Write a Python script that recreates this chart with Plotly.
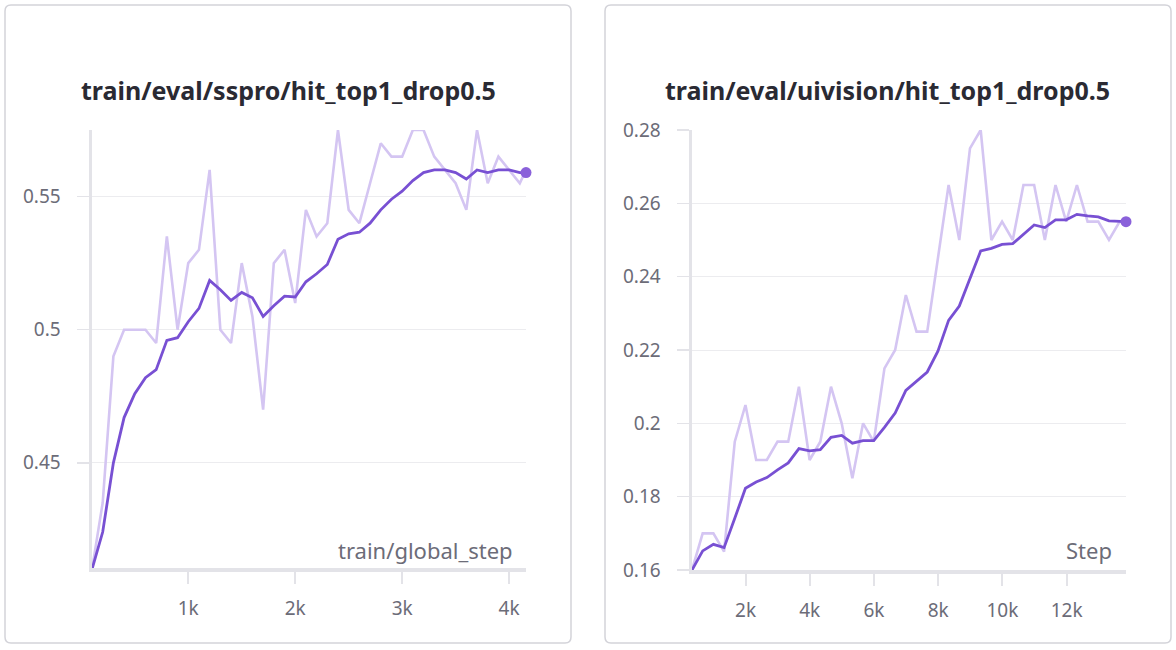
import plotly.graph_objects as go

W, H = 1176, 650

# ---------------- data ----------------
sspro_steps = [100, 200, 300, 400, 500, 600, 700, 800, 900, 1000,
               1100, 1200, 1300, 1400, 1500, 1600, 1700, 1800, 1900, 2000,
               2100, 2200, 2300, 2400, 2500, 2600, 2700, 2800, 2900, 3000,
               3100, 3200, 3300, 3400, 3500, 3600, 3700, 3800, 3900, 4000,
               4100, 4158]
sspro_raw = [0.41, 0.435, 0.49, 0.5, 0.5, 0.5, 0.495, 0.535, 0.5, 0.525,
             0.53, 0.56, 0.5, 0.495, 0.525, 0.505, 0.47, 0.525, 0.53, 0.51,
             0.545, 0.535, 0.54, 0.575, 0.545, 0.54, 0.555, 0.57, 0.565, 0.565,
             0.575, 0.575, 0.565, 0.56, 0.555, 0.545, 0.575, 0.555, 0.565, 0.56,
             0.555, 0.56]
sspro_smooth = [0.41, 0.424, 0.450, 0.467, 0.476, 0.482, 0.485, 0.496, 0.497, 0.503,
                0.508, 0.5185, 0.515, 0.511, 0.514, 0.512, 0.505, 0.509, 0.5126, 0.5123,
                0.518, 0.521, 0.5245, 0.534, 0.536, 0.5366, 0.540, 0.545, 0.549, 0.552,
                0.556, 0.559, 0.560, 0.560, 0.559, 0.5566, 0.560, 0.559, 0.560, 0.560,
                0.559, 0.559]

ui_steps = [333, 666, 999, 1332, 1665, 1998, 2331, 2664, 2997, 3330,
            3663, 3996, 4329, 4662, 4995, 5328, 5661, 5994, 6327, 6660,
            6993, 7326, 7659, 7992, 8325, 8658, 8991, 9324, 9657, 9990,
            10323, 10656, 10989, 11322, 11655, 11988, 12321, 12654, 12987, 13320,
            13653, 13850]
ui_raw = [0.16, 0.17, 0.17, 0.165, 0.195, 0.205, 0.19, 0.19, 0.195, 0.195,
          0.21, 0.19, 0.195, 0.21, 0.2, 0.185, 0.2, 0.195, 0.215, 0.22,
          0.235, 0.225, 0.225, 0.245, 0.265, 0.25, 0.275, 0.28, 0.25, 0.255,
          0.25, 0.265, 0.265, 0.25, 0.265, 0.255, 0.265, 0.255, 0.255, 0.25,
          0.255, 0.255]
ui_smooth = [0.16, 0.1652, 0.167, 0.1661, 0.1741, 0.1823, 0.184, 0.1852, 0.1873, 0.1892,
             0.1931, 0.1925, 0.1928, 0.1962, 0.1967, 0.1946, 0.1953, 0.1953, 0.1989, 0.2028,
             0.209, 0.2115, 0.214, 0.2197, 0.2281, 0.232, 0.2397, 0.247, 0.2477, 0.2488,
             0.249, 0.2516, 0.2541, 0.2534, 0.2555, 0.2555, 0.257, 0.2566, 0.2563, 0.2552,
             0.255, 0.255]

titles = ["train/eval/sspro/hit_top1_drop0.5", "train/eval/uivision/hit_top1_drop0.5"]
x_titles = ["train/global_step", "Step"]
sspro_xticks = [1000, 2000, 3000, 4000]
sspro_xlabels = ["1k", "2k", "3k", "4k"]
sspro_yticks = [0.45, 0.5, 0.55]
sspro_ylabels = ["0.45", "0.5", "0.55"]
ui_xticks = [2000, 4000, 6000, 8000, 10000, 12000]
ui_xlabels = ["2k", "4k", "6k", "8k", "10k", "12k"]
ui_yticks = [0.16, 0.18, 0.2, 0.22, 0.24, 0.26, 0.28]
ui_ylabels = ["0.16", "0.18", "0.2", "0.22", "0.24", "0.26", "0.28"]

# ---------------- style ----------------
FONT = "Noto Sans"
RAW_C = "#d4c5f2"
SM_C = "#7850d3"
DOT_C = "#8a61da"
AX_C = "#e3e3e8"
GRID_C = "#ececef"
TXT_C = "#6c6c78"
TITLE_C = "#2a2a33"


def px(x):
    return x / W


def py(y):
    return 1 - y / H


fig = go.Figure()

series = [
    (sspro_steps, sspro_raw, sspro_smooth, "x", "y"),
    (ui_steps, ui_raw, ui_smooth, "x2", "y2"),
]
for steps, raw, sm, xa, ya in series:
    fig.add_trace(go.Scatter(x=steps, y=raw, mode="lines", xaxis=xa, yaxis=ya,
                             line=dict(color=RAW_C, width=2.6), hoverinfo="skip",
                             showlegend=False, cliponaxis=False))
    fig.add_trace(go.Scatter(x=steps, y=sm, mode="lines", xaxis=xa, yaxis=ya,
                             line=dict(color=SM_C, width=2.8), showlegend=False,
                             cliponaxis=False))
    fig.add_trace(go.Scatter(x=[steps[-1]], y=[sm[-1]], mode="markers", xaxis=xa, yaxis=ya,
                             marker=dict(color=DOT_C, size=11), showlegend=False,
                             cliponaxis=False))

common_x = dict(showgrid=False, zeroline=False, showline=True, linecolor=AX_C, linewidth=4,
                ticks="outside", ticklen=12, tickwidth=2, tickcolor=AX_C,
                tickfont=dict(family=FONT, size=19, color=TXT_C), ticklabelstandoff=8,
                fixedrange=True, automargin=False)
common_y = dict(showgrid=True, gridcolor=GRID_C, gridwidth=1, zeroline=False, showline=True,
                linecolor=AX_C, linewidth=3.5, ticks="outside", ticklen=12, tickwidth=1.5,
                tickcolor=AX_C, tickfont=dict(family=FONT, size=19, color=TXT_C),
                ticklabelstandoff=12, fixedrange=True, automargin=False)

fig.update_layout(
    width=W, height=H, autosize=False,
    margin=dict(l=0, r=0, t=0, b=0, pad=0),
    paper_bgcolor="white", plot_bgcolor="white",
    font=dict(family=FONT),
    xaxis=dict(common_x, domain=[px(92), px(526)], range=[100, 4158],
               tickvals=sspro_xticks, ticktext=sspro_xlabels, anchor="y"),
    yaxis=dict(common_y, domain=[py(568), py(130)], range=[0.4105, 0.575],
               tickvals=sspro_yticks, ticktext=sspro_ylabels, anchor="x"),
    xaxis2=dict(common_x, domain=[px(692), px(1126)], range=[333, 13850],
                tickvals=ui_xticks, ticktext=ui_xlabels, anchor="y2"),
    yaxis2=dict(common_y, domain=[py(570), py(130)], range=[0.16, 0.28],
                tickvals=ui_yticks, ticktext=ui_ylabels, anchor="x2"),
)


def rounded_rect(x0, y0, x1, y1, r):
    X0, X1 = px(x0), px(x1)
    Y0, Y1 = py(y0), py(y1)
    rx, ry = r / W, r / H
    return (f"M {X0+rx},{Y0} L {X1-rx},{Y0} Q {X1},{Y0} {X1},{Y0-ry} "
            f"L {X1},{Y1+ry} Q {X1},{Y1} {X1-rx},{Y1} L {X0+rx},{Y1} "
            f"Q {X0},{Y1} {X0},{Y1+ry} L {X0},{Y0-ry} Q {X0},{Y0} {X0+rx},{Y0} Z")


shapes = []
for (x0, x1) in [(5, 571), (605, 1171)]:
    shapes.append(dict(type="path", path=rounded_rect(x0, 5, x1, 643, 6),
                       xref="paper", yref="paper", line=dict(color="#d3d3d9", width=1.5),
                       fillcolor="rgba(0,0,0,0)", layer="below"))
fig.update_layout(shapes=shapes)

annotations = []
for t, cx in zip(titles, [288, 888]):
    annotations.append(dict(text=f"<b>{t}</b>", x=px(cx), y=py(90), xref="paper", yref="paper",
                            xanchor="center", yanchor="middle", showarrow=False,
                            font=dict(family=FONT, size=25, color=TITLE_C)))
for t, rx in zip(x_titles, [515, 1114]):
    annotations.append(dict(text=t, x=px(rx), y=py(550), xref="paper", yref="paper",
                            xanchor="right", yanchor="middle", showarrow=False,
                            font=dict(family=FONT, size=22, color=TXT_C)))
fig.update_layout(annotations=annotations)

fig.write_html("out.html",
               config={"displayModeBar": False, "staticPlot": True},
               post_script="document.body.style.margin='0';document.body.style.overflow='hidden';")
